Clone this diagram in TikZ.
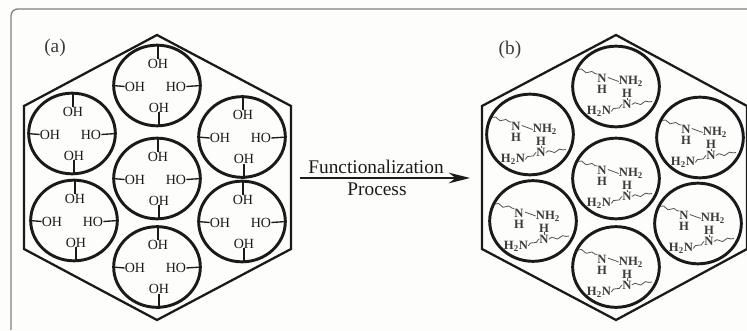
\documentclass[tikz,border=0pt]{standalone}
\usepackage{fontspec}
\setmainfont{Liberation Serif}
\usetikzlibrary{decorations.pathmorphing,arrows.meta,shapes.geometric}
\definecolor{ink}{HTML}{1A1A1A}
\definecolor{paper}{HTML}{FDFDFC}
\tikzset{
  hexline/.style={draw=ink,line width=1.7pt,line join=miter},
  well/.style={ellipse,draw=ink,line width=2.2pt,minimum width=65pt,minimum height=60.5pt,inner sep=0pt},
  oh/.style={inner sep=0pt,font=\fontsize{10.5}{10.5}\selectfont,text=ink},
  am/.style={inner sep=0pt,font=\fontsize{9.5}{9.5}\selectfont\bfseries,text=ink!85},
  stub/.style={draw=ink,line width=1pt},
  wave/.style={draw=ink!75,line width=0.6pt,decorate,decoration={snake,amplitude=1pt,segment length=8pt}},
  bond/.style={draw=ink!75,line width=0.6pt},
  frame/.style={draw=black!50,line width=1pt,rounded corners=5pt},
  lab/.style={inner sep=0pt,font=\fontsize{14.5}{14.5}\selectfont,text=ink},
  tag/.style={inner sep=0pt,font=\fontsize{14.5}{14.5}\selectfont,text=ink!85}
}
\newcommand{\hexa}[4]{% name, left x, right x, centre x
  \coordinate (#1t) at (#4,35);
  \coordinate (#1ur) at (#3,106);
  \coordinate (#1lr) at (#3,249);
  \coordinate (#1b) at (#4,320);
  \coordinate (#1ll) at (#2,249);
  \coordinate (#1ul) at (#2,106);
  \draw[hexline] (#1t) -- (#1ur) -- (#1lr) -- (#1b) -- (#1ll) -- (#1ul) -- cycle;
}
\newcommand{\ohcell}[3]{% name, x, y
  \node[well] (#1) at (#2,#3) {};
  \node[oh] (#1t) at (#2+1,#3-22) {OH};
  \node[oh] (#1l) at (#2-22,#3+1) {OH};
  \node[oh] (#1r) at (#2+19,#3+1) {HO};
  \node[oh] (#1b) at (#2+2,#3+22) {OH};
  \draw[stub] (#1t.north |- #1.north) -- (#1t.north);
  \draw[stub] (#1b.south) -- (#1b.south |- #1.south);
  \draw[stub] (#1.west) -- (#1l.west);
  \draw[stub] (#1r.east) -- (#1.east);
}
\newcommand{\amcell}[3]{% name, x, y
  \node[well] (#1) at (#2,#3) {};
  \node[am] (#1n) at (#2-14,#3-8) {N};
  \node[am] (#1h) at (#2-14,#3+3) {H};
  \node[am] (#1a) at (#2+15,#3-5) {NH\textsubscript{2}};
  \node[am] (#1i) at (#2+11,#3+7) {H};
  \node[am] (#1m) at (#2+11,#3+18) {N};
  \node[am] (#1d) at (#2-17,#3+25) {H\textsubscript{2}N};
  \coordinate (#1w) at (#2-38,#3-17);
  \coordinate (#1e) at (#2+36,#3+15);
  \draw[wave] (#1w) -- (#1n.north west);
  \draw[bond] (#1n.east) ++(1,-1) -- (#1a.west);
  \draw[bond] (#1i.south) -- (#1m.north);
  \draw[wave] (#1d.east) -- (#1m.west);
  \draw[wave] (#1m.east) -- (#1e);
}
\begin{document}
\begin{tikzpicture}[x=0.75pt,y=-0.75pt]
\useasboundingbox[fill=paper] (0,0) rectangle (747,331);
\coordinate (fa) at (11,330);
\coordinate (fb) at (11,9);
\coordinate (fc) at (747,9);
\draw[frame] (fa) -- (fb) -- (fc);
\hexa{A}{24}{291}{157}
\hexa{B}{482}{747}{616}
\ohcell{a1}{157}{85.5}
\ohcell{a2}{72}{133.5}
\ohcell{a3}{74}{220.5}
\ohcell{a4}{157}{178.5}
\ohcell{a5}{157}{267}
\ohcell{a6}{242}{137}
\ohcell{a7}{242}{221.5}
\amcell{b1}{616}{86.5}
\amcell{b2}{530}{134.5}
\amcell{b3}{533}{221}
\amcell{b4}{616}{178.5}
\amcell{b5}{616}{267}
\amcell{b6}{700}{137.5}
\amcell{b7}{698}{223.5}
\node[tag] (la) at (55,48) {(a)};
\node[tag] (lb) at (510,50) {(b)};
\coordinate (p0) at (300,178);
\coordinate (p1) at (470,178);
\draw[draw=ink,line width=1.1pt,-{Stealth[length=16pt,width=8pt]}] (p0) -- (p1);
\node[lab] (f) at (376,166.5) {Functionalization};
\node[lab] (g) at (377,189) {Process};
\end{tikzpicture}
\end{document}
